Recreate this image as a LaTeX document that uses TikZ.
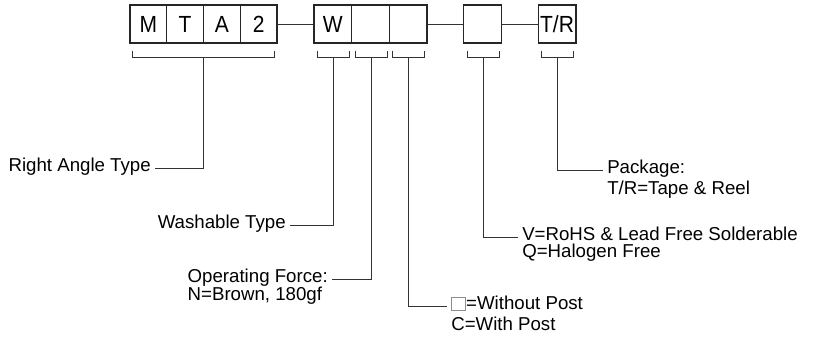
\documentclass[tikz,border=0pt]{standalone}
\usepackage{fontspec}
\setmainfont{Liberation Sans}
\newfontfamily\cellfont[FakeStretch=0.9]{Liberation Sans}
\usetikzlibrary{positioning,calc}
\newcommand{\postbox}{{\color{black!45}\setlength{\fboxsep}{0pt}\setlength{\fboxrule}{0.6pt}\fbox{\rule{0pt}{9pt}\hspace{10pt}}}}

\begin{document}
\begin{tikzpicture}[
  x=0.75pt, y=-0.75pt,
  cell/.style={draw=black!85, line width=1pt, minimum width=27.6pt, minimum height=28.5pt,
    inner sep=0pt, font=\cellfont\fontsize{17.5}{17.5}\selectfont},
  slot/.style={cell, minimum width=28.25pt},
  lead/.style={draw=black!80, line width=0.75pt},
  lbl/.style={font=\fontsize{14}{14}\selectfont, inner ysep=0pt, inner xsep=3pt},
]
\useasboundingbox (0,0) rectangle (813,339);

% Part number cells
\node[cell] (cM) at (148.4,24) {M};
\node[cell] (cT) at (185.1,24) {T};
\node[cell] (cA) at (221.9,24) {A};
\node[cell] (c2) at (258.6,24) {2};

% Option slots
\node[slot] (bW) at (332.8,24) {W};
\node[slot] (bF) at (370.5,24) {};
\node[slot] (bP) at (408.2,24) {};
\node[slot] (bV) at (482.5,24) {};
\node[slot] (bR) at (557,24) {T/R};

\draw[lead] (c2.east) -- (bW.west);
\draw[lead] (bP.east) -- (bV.west);
\draw[lead] (bV.east) -- (bR.west);

% Brackets
\draw[lead] ($(cM.south west)+(3,7)$) -- ++(0,7)
  -- coordinate[midway] (sM) ($(c2.south east)+(-3,14)$) -- ++(0,-7);
\foreach \b/\s in {bW/sW, bF/sF, bP/sP, bV/sV, bR/sR}
  \draw[lead] ($(\b.south west)+(4,7)$) -- ++(0,7)
    -- coordinate[midway] (\s) ($(\b.south east)+(-3,14)$) -- ++(0,-7);

% Labels on the left
\node[lbl, anchor=mid east] (ra) at (155,168) {Right Angle Type};
\node[lbl, anchor=mid east] (wt) at (290,225) {Washable Type};
\node[lbl, anchor=mid east] (of) at (332,279) {Operating Force:};
\node[lbl, anchor=mid west] (nb) at ($(of.mid west)+(0,18)$) {N=Brown, 180gf};

% Labels on the right
\node[lbl, anchor=mid west] (wp) at (447,306) {\postbox=Without Post};
\node[lbl, anchor=mid west] (cp) at ($(wp.mid west)+(0,21)$) {C=With Post};
\node[lbl, anchor=mid west] (rh) at (518,237) {V=RoHS \& Lead Free Solderable};
\node[lbl, anchor=mid west] (hf) at ($(rh.mid west)+(0,17)$) {Q=Halogen Free};
\node[lbl, anchor=mid west] (pk) at (603,170) {Package:};
\node[lbl, anchor=mid west] (tr) at ($(pk.mid west)+(0,21)$) {T/R=Tape \& Reel};

% Leaders
\draw[lead] (sM) |- (ra.mid east);
\draw[lead] (sW) |- (wt.mid east);
\draw[lead] (sF) |- (of.mid east);
\draw[lead] (sP) |- (wp.mid west);
\draw[lead] (sV) |- (rh.mid west);
\draw[lead] (sR) |- (pk.mid west);

\end{tikzpicture}
\end{document}
